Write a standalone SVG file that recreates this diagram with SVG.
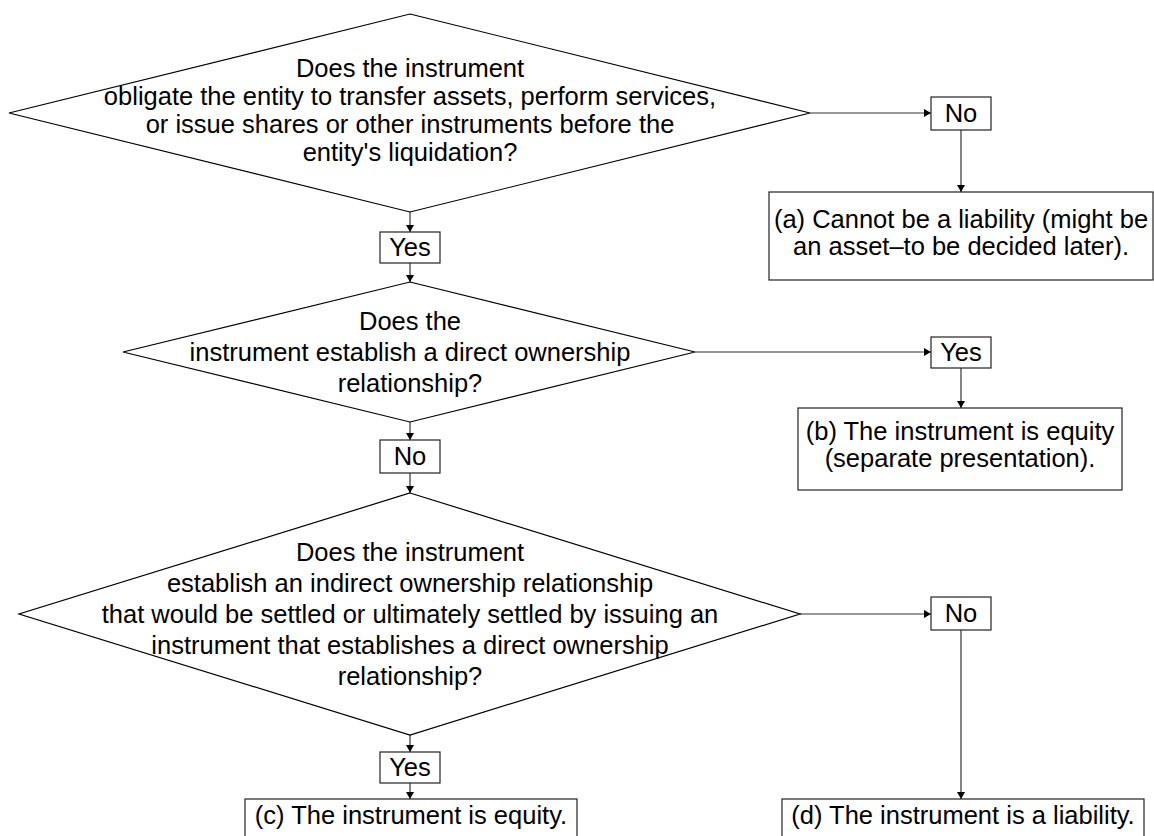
<svg xmlns="http://www.w3.org/2000/svg" width="1154" height="836" viewBox="0 0 1154 836">
<defs>
<marker id="ah" markerWidth="8" markerHeight="8" refX="7" refY="4" orient="auto" markerUnits="userSpaceOnUse"><path d="M0,0 L7,4 L0,8 z" fill="#000"/></marker>
<style>
.shape{fill:#fff;stroke:#000;stroke-width:1.2}
.box{fill:#fff;stroke:#222;stroke-width:1.2}
.conn{fill:none;stroke:#333;stroke-width:1.2;marker-end:url(#ah)}
text{font-family:"Liberation Sans",Arial,sans-serif;font-size:25.5px;fill:#000;text-anchor:middle}
</style>
</defs>
<rect width="1154" height="836" fill="#fff"/>
<g id="connectors">
<line class="conn" x1="810" y1="113" x2="931" y2="113"/>
<line class="conn" x1="961" y1="130" x2="961" y2="192"/>
<line class="conn" x1="410" y1="212" x2="410" y2="232"/>
<line class="conn" x1="410" y1="263" x2="410" y2="282"/>
<line class="conn" x1="695" y1="352" x2="931" y2="352"/>
<line class="conn" x1="961" y1="368" x2="961" y2="408"/>
<line class="conn" x1="410" y1="422" x2="410" y2="440"/>
<line class="conn" x1="410" y1="473" x2="410" y2="493"/>
<line class="conn" x1="800" y1="614" x2="931" y2="614"/>
<line class="conn" x1="961" y1="630" x2="961" y2="799"/>
<line class="conn" x1="410" y1="735" x2="410" y2="752"/>
<line class="conn" x1="410" y1="783" x2="410" y2="799"/>
</g>
<g id="q1">
<polygon class="shape" points="410,14 810,113 410,212 9,113"/>
<text x="410" y="77">Does the instrument</text>
<text x="410" y="105">obligate the entity to transfer assets, perform services,</text>
<text x="410" y="133">or issue shares or other instruments before the</text>
<text x="410" y="161">entity's liquidation?</text>
</g>
<g id="no1">
<rect class="box" x="931" y="97" width="60" height="33"/>
<text x="961" y="122">No</text>
</g>
<g id="a">
<rect class="box" x="769" y="192" width="384" height="88"/>
<text x="961" y="228">(a) Cannot be a liability (might be</text>
<text x="961" y="255">an asset–to be decided later).</text>
</g>
<g id="yes1">
<rect class="box" x="380" y="232" width="60" height="31"/>
<text x="410" y="256">Yes</text>
</g>
<g id="q2">
<polygon class="shape" points="410,282 695,352 410,422 123,352"/>
<text x="410" y="330">Does the</text>
<text x="410" y="361">instrument establish a direct ownership</text>
<text x="410" y="392">relationship?</text>
</g>
<g id="yes2">
<rect class="box" x="931" y="337" width="60" height="31"/>
<text x="961" y="361">Yes</text>
</g>
<g id="b">
<rect class="box" x="798" y="408" width="324" height="82"/>
<text x="960" y="440">(b) The instrument is equity</text>
<text x="960" y="467">(separate presentation).</text>
</g>
<g id="no2">
<rect class="box" x="380" y="440" width="60" height="33"/>
<text x="410" y="465">No</text>
</g>
<g id="q3">
<polygon class="shape" points="410,493 800,614 410,735 19,614"/>
<text x="410" y="561">Does the instrument</text>
<text x="410" y="592">establish an indirect ownership relationship</text>
<text x="410" y="623">that would be settled or ultimately settled by issuing an</text>
<text x="410" y="654">instrument that establishes a direct ownership</text>
<text x="410" y="685">relationship?</text>
</g>
<g id="no3">
<rect class="box" x="931" y="597" width="60" height="33"/>
<text x="961" y="622">No</text>
</g>
<g id="yes3">
<rect class="box" x="380" y="752" width="60" height="31"/>
<text x="410" y="776">Yes</text>
</g>
<g id="c">
<rect class="box" x="245" y="799" width="332" height="60"/>
<text x="411" y="824">(c) The instrument is equity.</text>
</g>
<g id="d">
<rect class="box" x="782" y="799" width="362" height="60"/>
<text x="963" y="824">(d) The instrument is a liability.</text>
</g>
</svg>
